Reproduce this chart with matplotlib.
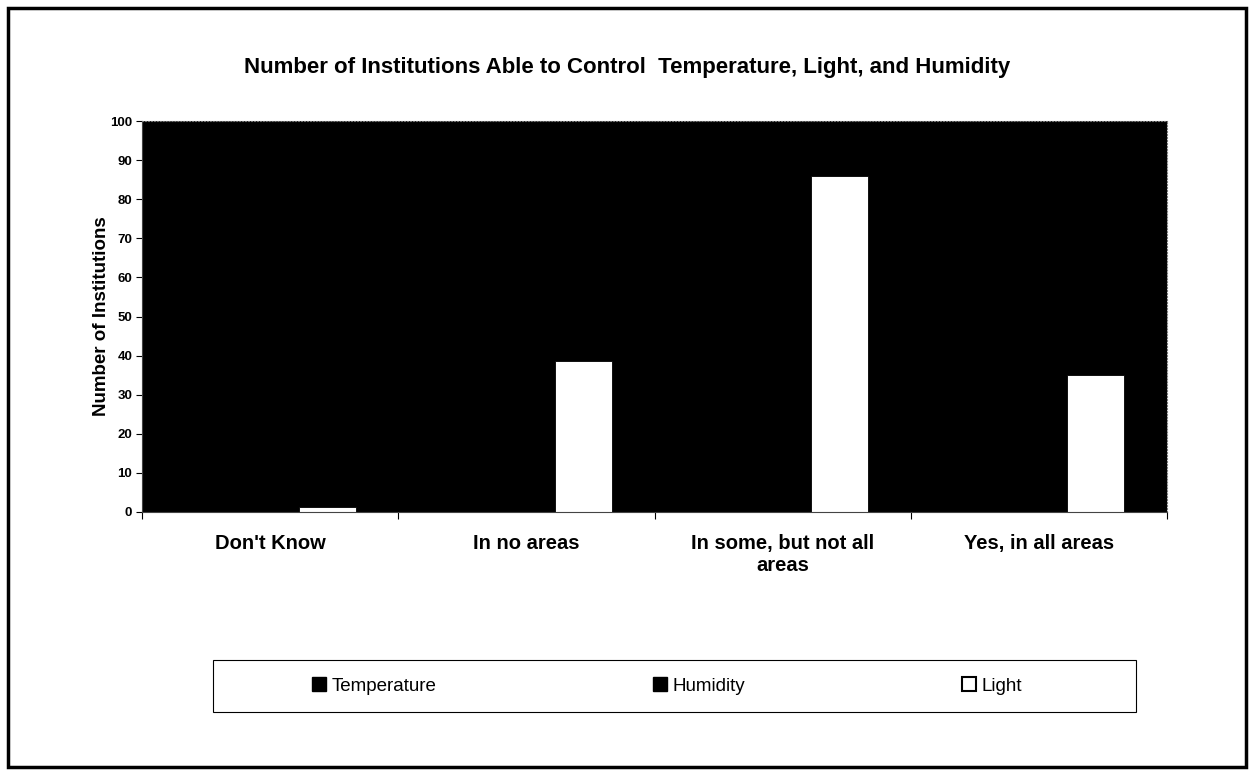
"""Number of institutions able to control temperature, light and humidity.

Excel-style clustered bar chart with a black plot area. The Temperature and
Humidity bars are filled black, so they vanish against the background; only
the white Light bars show.
"""

import matplotlib

matplotlib.use("Agg")
import matplotlib.pyplot as plt
import numpy as np
from matplotlib.patches import Patch, Rectangle

plt.rcParams["font.family"] = ["Liberation Sans", "DejaVu Sans"]

CATEGORIES = ["Don't Know", "In no areas", "In some, but not all\nareas", "Yes, in all areas"]
SERIES = ["Temperature", "Humidity", "Light"]
# Temperature / Humidity are black-on-black in the source, values not readable;
# these are rough guesses and stay invisible like in the original.
TEMPERATURE = [2, 20, 70, 65]
HUMIDITY = [3, 60, 55, 40]
LIGHT = [1.3, 38.5, 86, 35]
Y_TICKS = list(range(0, 101, 10))

W, H = 1254, 775
fig = plt.figure(figsize=(W / 100, H / 100), dpi=100)

# axes box in pixels: left 142, right 1167, top 121, bottom 512
ax = fig.add_axes([142 / W, 1 - 512 / H, 1025 / W, 391 / H])
ax.set_facecolor("black")

n = len(CATEGORIES)
centers = np.arange(n) + 0.5
bw = 57 / 256
ax.bar(centers - bw, TEMPERATURE, bw, color="black", edgecolor="black", linewidth=0.6)
ax.bar(centers, HUMIDITY, bw, color="black", edgecolor="black", linewidth=0.6)
ax.bar(centers + bw, LIGHT, bw, color="white", edgecolor="black", linewidth=0.6)

ax.set_xlim(0, n)
ax.set_ylim(0, 100)
ax.set_yticks(Y_TICKS)
ax.set_yticklabels([str(t) for t in Y_TICKS], fontsize=9.5, fontweight="bold")
ax.tick_params(axis="y", length=4, width=0.8, pad=3)

# Excel puts the category ticks between groups and the labels in the middle
ax.set_xticks(np.arange(n + 1))
ax.set_xticklabels([])
ax.tick_params(axis="x", which="major", length=5, width=0.8)
ax.set_xticks(centers, minor=True)
ax.set_xticklabels(CATEGORIES, minor=True, fontsize=14.5, fontweight="bold",
                   linespacing=1.2, va="top")
ax.tick_params(axis="x", which="minor", length=0, pad=16)

for s in ["top", "right"]:
    ax.spines[s].set_color("#777777")
    ax.spines[s].set_linestyle(":")
ax.spines["left"].set_color("#444444")
ax.spines["bottom"].set_color("#444444")

ax.set_ylabel("Number of Institutions", fontsize=13.5, fontweight="bold")
ax.yaxis.set_label_coords(-0.031, 0.5)

fig.text(0.5, 1 - 68 / H,
         "Number of Institutions Able to Control  Temperature, Light, and Humidity",
         ha="center", va="center", fontsize=16, fontweight="bold")

# legend frame drawn separately so the entries can sit inside a wide box
fig.add_artist(Rectangle((213 / W, 1 - 712 / H), (1136 - 213) / W, 52 / H,
                         transform=fig.transFigure, fill=False,
                         edgecolor="black", linewidth=0.8))
handles = [
    Patch(facecolor="black", edgecolor="black", label=SERIES[0]),
    Patch(facecolor="black", edgecolor="black", label=SERIES[1]),
    Patch(facecolor="white", edgecolor="black", linewidth=1.5, label=SERIES[2]),
]
fig.legend(handles=handles, loc="center", ncol=3, mode="expand", frameon=False,
           bbox_to_anchor=(312 / W, 1 - 712 / H, (1022 - 312) / W, 52 / H),
           fontsize=13.5, handlelength=0.75, handleheight=0.75, handletextpad=0.3,
           borderaxespad=0, borderpad=0)

# outer page border
fig.add_artist(Rectangle((8 / W, 8 / H), (W - 16) / W, (H - 16) / H,
                         transform=fig.transFigure, fill=False,
                         edgecolor="black", linewidth=2.5))

fig.savefig("out.png", dpi=100, facecolor="white")
